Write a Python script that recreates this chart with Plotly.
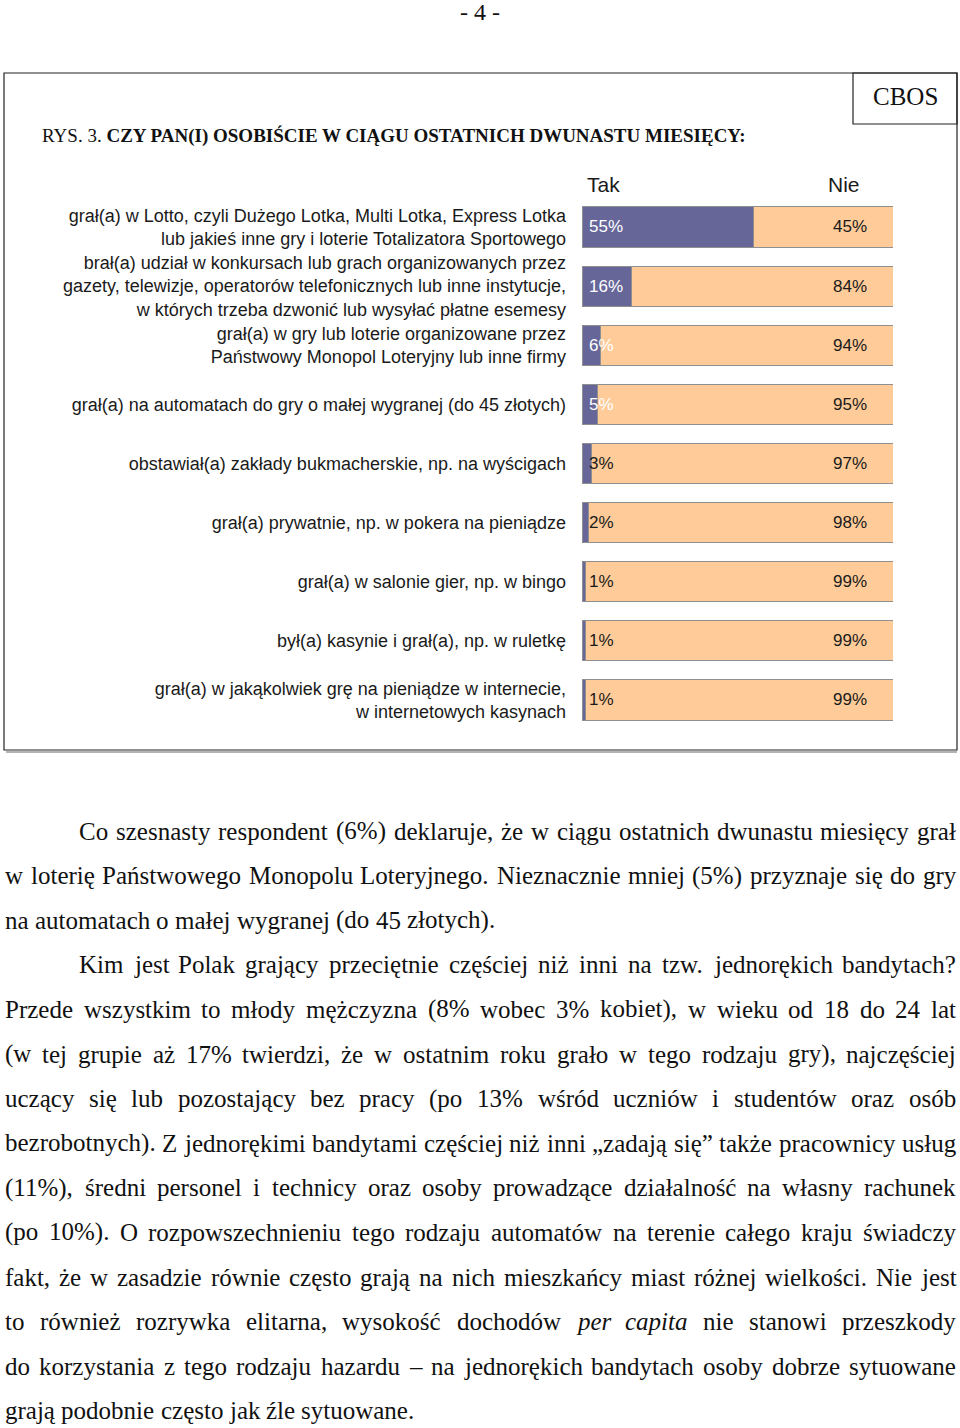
import plotly.graph_objects as go

# ---------------- data ----------------
categories = [
    "grał(a) w Lotto, czyli Dużego Lotka, Multi Lotka, Express Lotka<br>lub jakieś inne gry i loterie Totalizatora Sportowego",
    "brał(a) udział w konkursach lub grach organizowanych przez<br>gazety, telewizje, operatorów telefonicznych lub inne instytucje,<br>w których trzeba dzwonić lub wysyłać płatne esemesy",
    "grał(a) w gry lub loterie organizowane przez<br>Państwowy Monopol Loteryjny lub inne firmy",
    "grał(a) na automatach do gry o małej wygranej (do 45 złotych)",
    "obstawiał(a) zakłady bukmacherskie, np. na wyścigach",
    "grał(a) prywatnie, np. w pokera na pieniądze",
    "grał(a) w salonie gier, np. w bingo",
    "był(a) kasynie i grał(a), np. w ruletkę",
    "grał(a) w jakąkolwiek grę na pieniądze w internecie,<br>w internetowych kasynach",
]
tak = [55, 16, 6, 5, 3, 2, 1, 1, 1]
nie = [45, 84, 94, 95, 97, 98, 99, 99, 99]
series_names = ["Tak", "Nie"]

page_number = "- 4 -"
title_prefix = "RYS. 3. "
title_main = "CZY PAN(I) OSOBIŚCIE W CIĄGU OSTATNICH DWUNASTU MIESIĘCY:"
source_label = "CBOS"

# body paragraph lines: (text, indent, justified)
body_lines = [
    ("Co szesnasty respondent (6%) deklaruje, że w ciągu ostatnich dwunastu miesięcy grał", True, True),
    ("w loterię Państwowego Monopolu Loteryjnego. Nieznacznie mniej (5%) przyznaje się do gry", False, True),
    ("na automatach o małej wygranej (do 45 złotych).", False, False),
    ("Kim jest Polak grający przeciętnie częściej niż inni na tzw. jednorękich bandytach?", True, True),
    ("Przede wszystkim to młody mężczyzna (8% wobec 3% kobiet), w wieku od 18 do 24 lat", False, True),
    ("(w tej grupie aż 17% twierdzi, że w ostatnim roku grało w tego rodzaju gry), najczęściej", False, True),
    ("uczący się lub pozostający bez pracy (po 13% wśród uczniów i studentów oraz osób", False, True),
    ("bezrobotnych). Z jednorękimi bandytami częściej niż inni „zadają się” także pracownicy usług", False, True),
    ("(11%), średni personel i technicy oraz osoby prowadzące działalność na własny rachunek", False, True),
    ("(po 10%). O rozpowszechnieniu tego rodzaju automatów na terenie całego kraju świadczy", False, True),
    ("fakt, że w zasadzie równie często grają na nich mieszkańcy miast różnej wielkości. Nie jest", False, True),
    ("to również rozrywka elitarna, wysokość dochodów *per *capita nie stanowi przeszkody", False, True),
    ("do korzystania z tego rodzaju hazardu – na jednorękich bandytach osoby dobrze sytuowane", False, True),
    ("grają podobnie często jak źle sytuowane.", False, False),
]

# ---------------- geometry helpers ----------------
W, H = 960, 1428
def PX(x):
    return x / W
def PY(y):
    return 1 - y / H

TAK_COLOR = "#666699"
NIE_COLOR = "#FFCC99"
EDGE = "#8f8f8f"
SANS = "Liberation Sans, Arial"
SERIF = "Liberation Serif, Times New Roman, serif"

fig = go.Figure()
fig.add_trace(go.Bar(
    y=categories, x=tak, name=series_names[0], orientation="h",
    marker=dict(color=TAK_COLOR, line=dict(color=EDGE, width=1)),
    width=0.68, hoverinfo="skip",
))
fig.add_trace(go.Bar(
    y=categories, x=nie, name=series_names[1], orientation="h",
    marker=dict(color=NIE_COLOR, line=dict(color=EDGE, width=1)),
    width=0.68, hoverinfo="skip",
))

bar_top, bar_bot = 227, 700
step = (bar_bot - bar_top) / (len(categories) - 1)
fig.update_layout(
    width=W, height=H, barmode="stack", showlegend=False,
    margin=dict(l=0, r=0, t=0, b=0),
    paper_bgcolor="white", plot_bgcolor="white",
    xaxis=dict(domain=[PX(582), PX(893)], range=[0, 100], visible=False, fixedrange=True),
    yaxis=dict(domain=[PY(bar_bot + step / 2), PY(bar_top - step / 2)],
               categoryorder="array", categoryarray=categories, autorange="reversed",
               showgrid=False, zeroline=False, showline=False, ticks="",
               ticklabelstandoff=15,
               tickfont=dict(family=SANS, size=18, color="#1a1a1a")),
    font=dict(family=SANS),
)

ann = []
# value labels
for cat, t, n in zip(categories, tak, nie):
    ann.append(dict(x=0, y=cat, xref="x", yref="y", text=f"{t}%", showarrow=False,
                    xanchor="left", yanchor="middle", xshift=5,
                    font=dict(family=SANS, size=17,
                              color="white" if t >= 5 else "#1a1a1a")))
    ann.append(dict(x=86.3, y=cat, xref="x", yref="y", text=f"{n}%", showarrow=False,
                    xanchor="center", yanchor="middle",
                    font=dict(family=SANS, size=17, color="#1a1a1a")))

# series headers
ann.append(dict(x=PX(585), y=PY(185), xref="paper", yref="paper", text=series_names[0],
                showarrow=False, xanchor="left", yanchor="middle",
                font=dict(family=SANS, size=21, color="#1a1a1a")))
ann.append(dict(x=PX(844), y=PY(185), xref="paper", yref="paper", text=series_names[1],
                showarrow=False, xanchor="center", yanchor="middle",
                font=dict(family=SANS, size=21, color="#1a1a1a")))

# page number, title, source
ann.append(dict(x=PX(480), y=PY(12), xref="paper", yref="paper", text=page_number,
                showarrow=False, xanchor="center", yanchor="middle",
                font=dict(family=SERIF, size=24, color="#111")))
ann.append(dict(x=PX(40), y=PY(136), xref="paper", yref="paper",
                text=title_prefix + "<b>" + title_main + "</b>",
                showarrow=False, xanchor="left", yanchor="middle",
                font=dict(family=SERIF, size=19, color="#111")))
ann.append(dict(x=PX(905), y=PY(97), xref="paper", yref="paper", text=source_label,
                showarrow=False, xanchor="center", yanchor="middle",
                font=dict(family=SERIF, size=25, color="#111")))

# ---------------- justified body text ----------------
TW = dict(a=444, b=500, c=444, d=500, e=444, f=333, g=500, h=500, i=278, j=278, k=500, l=278,
          m=778, n=500, o=500, p=500, q=500, r=333, s=389, t=278, u=500, v=500, w=722, x=500,
          y=500, z=444,
          A=722, B=667, C=667, D=722, E=611, F=556, G=722, H=722, I=333, J=389, K=722, L=611,
          M=889, N=722, O=722, P=556, Q=722, R=667, S=556, T=611, U=722, V=722, W=944, X=722,
          Y=722, Z=611)
TW.update({".": 250, ",": 250, ":": 278, ";": 278, "(": 333, ")": 333, "%": 833, "?": 444,
           "–": 500, "„": 444, "”": 444, "-": 333, " ": 250})
for d in "0123456789":
    TW[d] = 500
PL = {"ą": "a", "ć": "c", "ę": "e", "ł": "l", "ń": "n", "ó": "o", "ś": "s", "ź": "z", "ż": "z",
      "Ą": "A", "Ć": "C", "Ę": "E", "Ł": "L", "Ń": "N", "Ó": "O", "Ś": "S", "Ź": "Z", "Ż": "Z"}
TWI = dict(p=500, e=444, r=389, c=444, a=500, i=278, t=278)

def word_width(wd, italic, size):
    tot = 0
    for ch in wd:
        ch = PL.get(ch, ch)
        if italic and ch in TWI:
            tot += TWI[ch]
        else:
            tot += TW.get(ch, 500)
    return tot * size / 1000

BODY_SIZE = 25
LEFT, RIGHT, INDENT = 4, 955, 78
line_y0, line_step = 831, 44.6
for li, (text, indent, just) in enumerate(body_lines):
    items = []
    for wd in text.split(" "):
        it = wd.startswith("*")
        items.append((wd.lstrip("*"), it))
    x0 = INDENT if indent else LEFT
    widths = [word_width(wd, it, BODY_SIZE) for wd, it in items]
    space = 250 * BODY_SIZE / 1000
    if just and len(items) > 1:
        space = max(space * 0.6, (RIGHT - x0 - sum(widths)) / (len(items) - 1))
    y = line_y0 + li * line_step
    x = x0
    for (wd, it), wdt in zip(items, widths):
        ann.append(dict(x=PX(x), y=PY(y), xref="paper", yref="paper",
                        text=f"<i>{wd}</i>" if it else wd, showarrow=False,
                        xanchor="left", yanchor="middle", borderpad=0,
                        font=dict(family=SERIF, size=BODY_SIZE, color="#111")))
        x += wdt + space

fig.update_layout(annotations=ann)

# frame boxes
fig.add_shape(type="rect", xref="paper", yref="paper", x0=PX(4), x1=PX(957), y0=PY(750), y1=PY(73),
              line=dict(color="#222", width=1.2), fillcolor="rgba(0,0,0,0)", layer="below")
fig.add_shape(type="line", xref="paper", yref="paper", x0=PX(6), x1=PX(957), y0=PY(752), y1=PY(752),
              line=dict(color="#9a9a9a", width=1.5))
fig.add_shape(type="rect", xref="paper", yref="paper", x0=PX(853), x1=PX(957), y0=PY(124), y1=PY(73),
              line=dict(color="#222", width=1.2), fillcolor="rgba(0,0,0,0)")

fig.write_html(
    "out.html",
    config={"displayModeBar": False},
    post_script="document.body.style.margin='0';document.body.style.padding='0';"
                "document.body.style.overflow='hidden';",
)
